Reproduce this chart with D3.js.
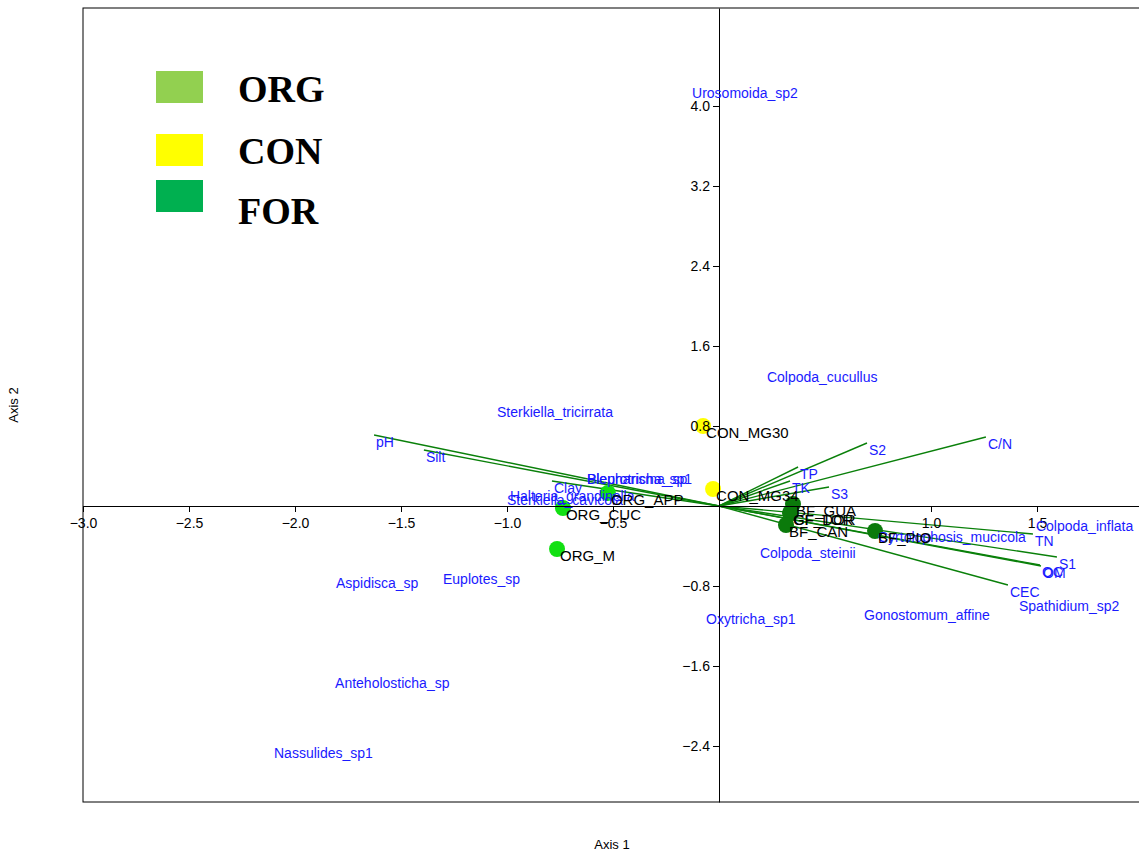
<!DOCTYPE html>
<html>
<head>
<meta charset="utf-8">
<script src="https://cdn.jsdelivr.net/npm/d3@7"></script>
<style>
  body { margin: 0; background: #fff; }
  svg { display: block; font-family: Arial, "Liberation Sans", sans-serif; }
</style>
</head>
<body>
<svg id="chart"></svg>
<script>
// sample sites
var siteNames = ["CON_MG30", "CON_MG34", "ORG_APP", "ORG_CUC", "ORG_M", "BF_GUA", "GF_DOR", "CF_TOR", "BF_CAN", "BF_PIO"];
var siteGroup = ["CON", "CON", "ORG", "ORG", "ORG", "FOR", "FOR", "FOR", "FOR", "FOR"];
var siteX = [-0.075, -0.028, -0.524, -0.736, -0.764, 0.349, 0.335, 0.338, 0.316, 0.736];
var siteY = [0.80, 0.17, 0.13, -0.02, -0.43, 0.02, -0.07, -0.07, -0.19, -0.25];

// species scores
var speciesNames = ["Urosomoida_sp2", "Colpoda_cucullus", "Sterkiella_tricirrata", "Colpoda_inflata",
  "Cyrtolophosis_mucicola", "Colpoda_steinii", "Gonostomum_affine", "Oxytricha_sp1", "Spathidium_sp2",
  "Aspidisca_sp", "Euplotes_sp", "Anteholosticha_sp", "Nassulides_sp1", "Blepharisma_sp",
  "Pleurotricha_sp1", "Halteria_grandinella", "Sterkiella_cavicola"];
var speciesX = [-0.127, 0.226, -1.047, 1.495, 0.75, 0.193, 0.684, -0.061, 1.415,
  -1.807, -1.302, -1.811, -2.099, -0.623, -0.623, -0.986, -1.0];
var speciesY = [4.12, 1.28, 0.93, -0.21, -0.32, -0.48, -1.10, -1.14, -1.01,
  -0.78, -0.74, -1.78, -2.48, 0.26, 0.26, 0.09, 0.05];

// environmental vectors
var envNames = ["pH", "Silt", "Clay", "C/N", "S2", "TP", "TK", "S3", "TN", "S1", "OC", "OM", "CEC"];
var envX = [-1.627, -1.392, -0.788, 1.259, 0.698, 0.373, 0.335, 0.519, 1.481, 1.594, 1.514, 1.519, 1.363];
var envY = [0.71, 0.56, 0.25, 0.69, 0.63, 0.39, 0.25, 0.19, -0.28, -0.51, -0.59, -0.60, -0.79];

var xTicks = [-3.0, -2.5, -2.0, -1.5, -1.0, -0.5, 1.0, 1.5];
var yTicks = [-2.4, -1.6, -0.8, 0.8, 1.6, 2.4, 3.2, 4.0];

var legendGroups = ["ORG", "CON", "FOR"];
var legendColors = ["#92D050", "#FFFF00", "#00B050"];
var pointColors = { ORG: "#12E012", CON: "#FFFF00", FOR: "#0B7A0B" };

var width = 1139, height = 855;
var svg = d3.select("#chart").attr("width", width).attr("height", height);

var x = d3.scaleLinear().domain([-3, 2]).range([83, 1143]);
var y = d3.scaleLinear().domain([-2.96, 4.98]).range([802, 8]);

// frame
svg.append("rect")
  .attr("x", x(-3)).attr("y", y(4.98))
  .attr("width", x(2) - x(-3) + 10).attr("height", y(-2.96) - y(4.98))
  .attr("fill", "none").attr("stroke", "#000").attr("stroke-width", 1);

// vectors
svg.append("g").selectAll("line").data(envNames).enter().append("line")
  .attr("x1", x(0)).attr("y1", y(0))
  .attr("x2", function (d, i) { return x(envX[i]); })
  .attr("y2", function (d, i) { return y(envY[i]); })
  .attr("stroke", "#0A800A").attr("stroke-width", 1.4);

// site points
svg.append("g").selectAll("circle").data(siteNames).enter().append("circle")
  .attr("cx", function (d, i) { return x(siteX[i]); })
  .attr("cy", function (d, i) { return y(siteY[i]); })
  .attr("r", 8)
  .attr("fill", function (d, i) { return pointColors[siteGroup[i]]; });

// axes through origin
var xAxis = d3.axisBottom(x).tickValues(xTicks).tickFormat(d3.format(".1f")).tickSize(6).tickSizeOuter(0);
var gx = svg.append("g").attr("transform", "translate(0," + y(0) + ")").call(xAxis);
gx.selectAll("text").style("font-size", "14px").attr("dy", "0.9em");

var yAxis = d3.axisLeft(y).tickValues(yTicks).tickFormat(d3.format(".1f")).tickSize(6).tickSizeOuter(0);
var gy = svg.append("g").attr("transform", "translate(" + x(0) + ",0)").call(yAxis);
gy.selectAll("text").style("font-size", "14px");
svg.selectAll(".domain, .tick line").attr("stroke", "#000");
svg.selectAll(".tick text").attr("fill", "#000").style("font-family", "Arial, 'Liberation Sans', sans-serif");

// vector labels
svg.append("g").selectAll("text").data(envNames).enter().append("text")
  .attr("x", function (d, i) { return x(envX[i]) + 2; })
  .attr("y", function (d, i) { return y(envY[i]) + 8; })
  .attr("dominant-baseline", "middle")
  .attr("fill", "#1a1aff").style("font-size", "14px")
  .text(function (d) { return d; });

// species
svg.append("g").selectAll("text").data(speciesNames).enter().append("text")
  .attr("x", function (d, i) { return x(speciesX[i]); })
  .attr("y", function (d, i) { return y(speciesY[i]); })
  .attr("dominant-baseline", "middle")
  .attr("fill", "#1a1aff").style("font-size", "14px")
  .text(function (d) { return d; });

// site labels
svg.append("g").selectAll("text").data(siteNames).enter().append("text")
  .attr("x", function (d, i) { return x(siteX[i]) + 3; })
  .attr("y", function (d, i) { return y(siteY[i]) + 8; })
  .attr("dominant-baseline", "middle")
  .attr("fill", "#000").style("font-size", "15px")
  .text(function (d) { return d; });

// legend
var leg = svg.append("g").selectAll("g").data(legendGroups).enter().append("g");
var legY = [71, 134, 180];
var legTextY = [102, 164, 224];
leg.append("rect")
  .attr("x", 156).attr("y", function (d, i) { return legY[i]; })
  .attr("width", 47).attr("height", 32)
  .attr("fill", function (d, i) { return legendColors[i]; });
leg.append("text")
  .attr("x", 238).attr("y", function (d, i) { return legTextY[i]; })
  .style("font-family", "'Liberation Serif', 'Times New Roman', serif")
  .style("font-weight", "bold").style("font-size", "38px")
  .text(function (d) { return d; });

// axis titles
svg.append("text").attr("x", 612).attr("y", 846).attr("text-anchor", "middle")
  .attr("dominant-baseline", "middle").style("font-size", "13px").text("Axis 1");
svg.append("text").attr("transform", "translate(15,405) rotate(-90)").attr("text-anchor", "middle")
  .attr("dominant-baseline", "middle").style("font-size", "13px").text("Axis 2");
</script>
</body>
</html>
